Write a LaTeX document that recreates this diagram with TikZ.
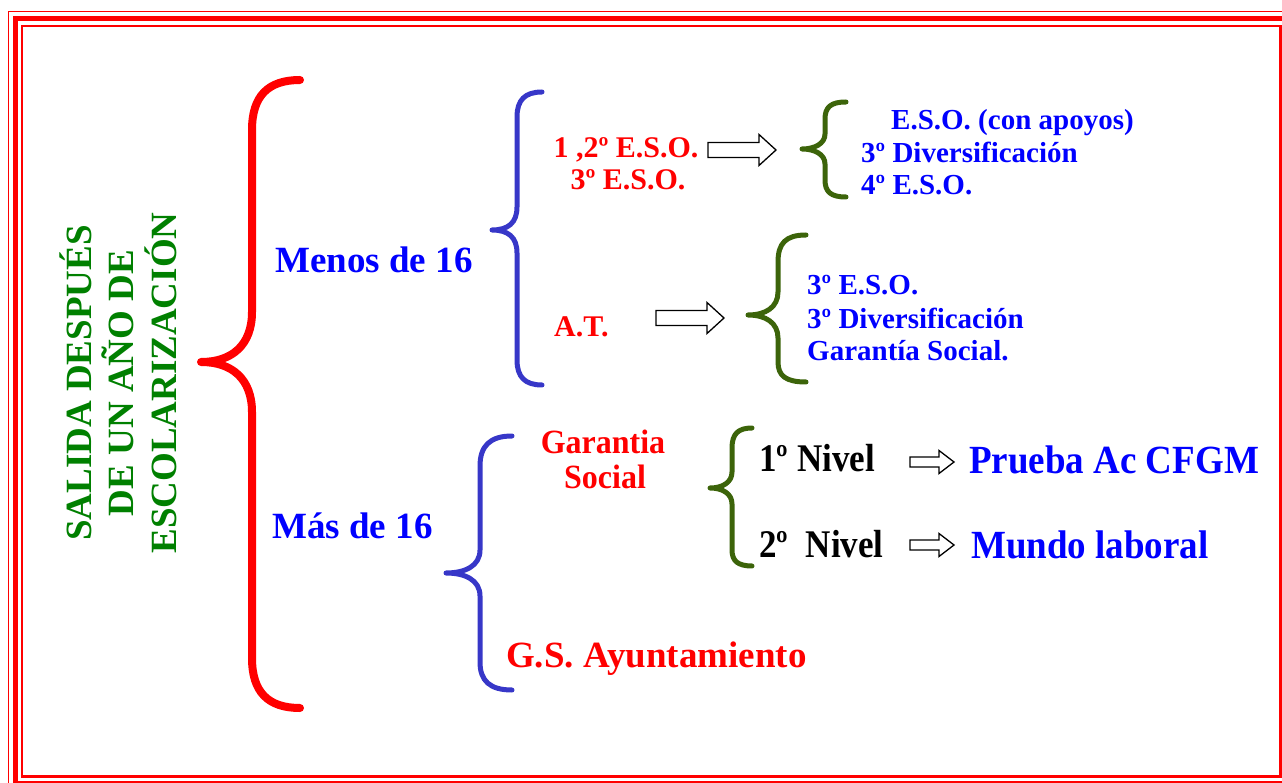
\documentclass[tikz,border=0pt]{standalone}
\usepackage{fontspec}
\usepackage{graphicx}
\setmainfont{Liberation Serif}
\definecolor{fred}{RGB}{255,0,0}
\definecolor{tblue}{RGB}{0,0,255}
\definecolor{bblue}{RGB}{55,55,200}
\definecolor{bgreen}{RGB}{60,100,10}
\definecolor{tgreen}{RGB}{0,128,0}
\newcommand{\tallbox}[2]{\scalebox{1}[#1]{#2}}
\tikzset{
  big/.style={font=\fontsize{37}{42}\selectfont\bfseries, inner sep=0pt},
  med/.style={font=\fontsize{30}{33}\selectfont\bfseries, inner sep=0pt, text=fred},
  gar/.style={font=\fontsize{32}{35}\selectfont\bfseries, inner sep=0pt, text=fred},
  lst/.style={font=\fontsize{29}{33}\selectfont\bfseries, inner sep=0pt, text=tblue, anchor=base west},
  niv/.style={font=\fontsize{35}{40}\selectfont\bfseries, inner sep=0pt, text=black, anchor=base west},
  res/.style={font=\fontsize{37}{40}\selectfont\bfseries, inner sep=0pt, text=tblue, anchor=base west},
  vt/.style={font=\fontsize{37}{42.5}\selectfont\bfseries, inner sep=0pt, text=tgreen, rotate=90, align=center},
  redbrace/.style={draw=fred, line width=8pt, line cap=round, line join=round},
  bluebrace/.style={draw=bblue, line width=5pt, line cap=round, line join=round},
  greenbrace/.style={draw=bgreen, line width=5pt, line cap=round, line join=round},
  harrowbig/.pic={\draw[fill=white, line width=1.3pt] (0,-7.5) -- (51,-7.5) -- (51,-15.5) -- (68,0) -- (51,15.5) -- (51,7.5) -- (0,7.5) -- cycle;},
  harrowsmall/.pic={\draw[fill=white, line width=1.3pt] (0,-5) -- (29,-5) -- (29,-11.5) -- (44,0) -- (29,11.5) -- (29,5) -- (0,5) -- cycle;}
}
\begin{document}
\begin{tikzpicture}[x=1pt,y=-1pt]
\useasboundingbox (0,0) rectangle (1282,783);
\clip (0,0) rectangle (1282,783);
% frame
\draw[fred, line width=1.6pt] (8.5,11.5) rectangle (1294,790.5);
\draw[fred, line width=5pt] (15.5,18.5) rectangle (1287,783.5);
\draw[fred, line width=2.5pt] (22,26) rectangle (1280.5,776.5);

% title
\node[vt] (title) at (118,383) {SALIDA DESPUÉS\\DE UN AÑO DE\\ESCOLARIZACIÓN};

% red brace
\draw[redbrace] (300,80) .. controls (268,80) and (252,96) .. (252,130) -- (252,312)
  .. controls (252,345) and (232,362) .. (201,362)
  .. controls (232,362) and (252,379) .. (252,412) -- (252,658)
  .. controls (252,692) and (268,708) .. (300,708);

\node[big, text=tblue, anchor=base west] (menos) at (275,273) {Menos de 16};
\node[big, text=tblue, anchor=base west] (mas) at (272,538) {Más de 16};

% blue brace 1
\draw[bluebrace] (542,92) .. controls (525,92) and (517,100) .. (517,117) -- (517,207)
  .. controls (517,223) and (508,230) .. (492,230)
  .. controls (508,230) and (517,237) .. (517,253) -- (517,360)
  .. controls (517,377) and (525,385) .. (542,385);

% blue brace 2
\draw[bluebrace] (512,436) .. controls (490,436) and (480,446) .. (480,466) -- (480,550)
  .. controls (480,566) and (465,573) .. (446,573)
  .. controls (465,573) and (480,580) .. (480,596) -- (480,662)
  .. controls (480,681) and (490,690) .. (512,690);

% upper branch
\node[med, anchor=base] (eso12) at (626,158) {1 ,2º E.S.O.};
\node[med, anchor=base] (eso3) at (628,190) {3º E.S.O.};
\pic at (708,150) {harrowbig};
\draw[greenbrace] (846,102) .. controls (831,102) and (825,107) .. (825,119) -- (825,134)
  .. controls (825,144) and (814,149) .. (802,149)
  .. controls (814,149) and (825,154) .. (825,164) -- (825,180)
  .. controls (825,192) and (831,197) .. (846,197);
\node[lst] (l1a) at (891,130) {E.S.O. (con apoyos)};
\node[lst] (l1b) at (861,163) {3º Diversificación};
\node[lst] (l1c) at (861,195) {4º E.S.O.};

\node[med, anchor=base west] (at) at (554,337) {A.T.};
\pic at (656,318) {harrowbig};
\draw[greenbrace] (806,235) .. controls (786,235) and (778,243) .. (778,262) -- (778,292)
  .. controls (778,307) and (766,315) .. (748,315)
  .. controls (766,315) and (778,323) .. (778,338) -- (778,362)
  .. controls (778,376) and (786,382) .. (806,382);
\node[lst] (l2a) at (807,295) {3º E.S.O.};
\node[lst] (l2b) at (807,329) {3º Diversificación};
\node[lst] (l2c) at (807,361) {Garantía Social.};

% lower branch
\node[gar, anchor=base] (gar1) at (603,453) {\tallbox{1.06}{Garantia}};
\node[gar, anchor=base] (gar2) at (605,488) {\tallbox{1.06}{Social}};
\draw[greenbrace] (752,428) .. controls (738,428) and (732,434) .. (732,448) -- (732,472)
  .. controls (732,482) and (723,488) .. (710,488)
  .. controls (723,488) and (732,494) .. (732,504) -- (732,550)
  .. controls (732,561) and (738,566) .. (752,566);
\node[niv] (n1) at (759,471) {\tallbox{1.12}{1º Nivel}};
\node[niv] (n2) at (759,557) {\tallbox{1.12}{2º\ \ Nivel}};
\pic at (910,462) {harrowsmall};
\pic at (910,545) {harrowsmall};
\node[res] (r1) at (969,473) {\tallbox{1.08}{Prueba Ac CFGM}};
\node[res] (r2) at (971,558) {\tallbox{1.08}{Mundo laboral}};

\node[big, text=fred, anchor=base west] (gsa) at (506,667) {G.S. Ayuntamiento};
\end{tikzpicture}
\end{document}
